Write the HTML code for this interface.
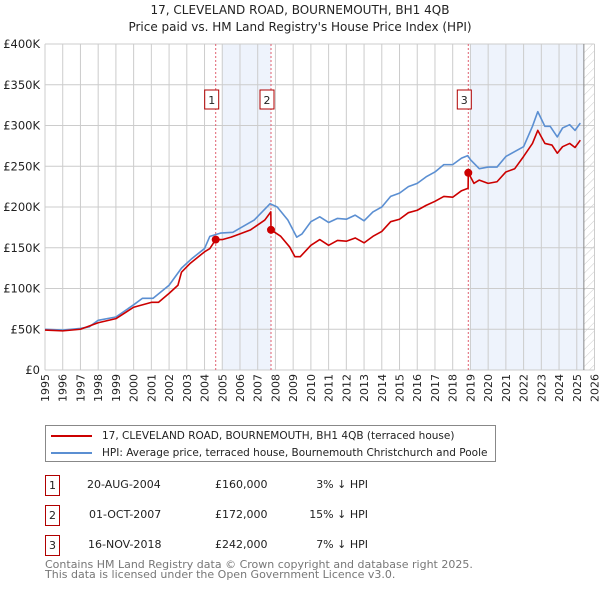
<!DOCTYPE html>
<html><head><meta charset="utf-8"><style>
body{margin:0;background:#fff;}
svg{display:block;font-family:"DejaVu Sans","Liberation Sans",sans-serif;}
</style></head><body>
<svg id="c" width="600" height="590" viewBox="0 0 600 590"></svg>
<script>
const hpiYears=[1995,1996,1997,1997.5,1998,1999,2000,2000.5,2001.1,2002,2002.7,2003.3,2004,2004.3,2004.9,2005.6,2006,2006.8,2007.7,2008.1,2008.7,2009.2,2009.5,2010,2010.5,2011,2011.5,2012,2012.5,2013,2013.5,2014,2014.5,2015,2015.5,2016,2016.5,2017,2017.5,2018,2018.5,2018.85,2019,2019.5,2020,2020.5,2021,2021.5,2022,2022.5,2022.8,2023.2,2023.5,2023.9,2024.2,2024.6,2024.9,2025.2];
const hpiValues=[50,49,51,53,61,65,80,88,88,104,125,137,149,164,168,169,174,184,204,200,184,163,167,182,188,181,186,185,190,183,194,200,213,217,225,229,237,243,252,252,260,263,258,247,249,249,262,268,274,299,317,299,299,286,297,301,294,303];
const priceYears=[1995,1996,1997,1998,1999,2000,2001,2001.4,2002,2002.5,2002.7,2003.2,2004,2004.3,2004.63,2005,2005.5,2006,2006.6,2007.4,2007.74,2007.75,2008.3,2008.8,2009.1,2009.4,2010,2010.5,2011,2011.5,2012,2012.5,2013,2013.5,2014,2014.5,2015,2015.5,2016,2016.5,2017,2017.5,2018,2018.5,2018.87,2018.88,2019.2,2019.5,2020,2020.5,2021,2021.5,2022,2022.5,2022.8,2023.2,2023.6,2023.9,2024.2,2024.6,2024.9,2025.2];
const priceValues=[49,48,50,58,63,77,83,83,94,104,120,131,145,149,160,160,163,167,172,184,194,172,164,151,139,139,153,160,153,159,158,162,156,164,170,182,185,193,196,202,207,213,212,220,223,242,229,233,229,231,243,247,262,278,294,278,276,266,274,278,273,282];
const saleYears=[2004.63,2007.75,2018.88];
const saleValues=[160,172,242];
const saleLabels=["1","2","3"];
const yTicks=[0,50,100,150,200,250,300,350,400];
const yTickLabels=["£0","£50K","£100K","£150K","£200K","£250K","£300K","£350K","£400K"];
const xTicks=[];for(let y=1995;y<=2026;y++)xTicks.push(y);

const X0=45,X1=594.5,Y0=370,Y1=44;
const xs=v=>X0+(v-1995)/31*(X1-X0);
const ys=v=>Y0-v/400*(Y0-Y1);
const svg=document.getElementById('c');
const NS='http://www.w3.org/2000/svg';
function mk(tag,attrs,parent){const e=document.createElementNS(NS,tag);for(const k in attrs)e.setAttribute(k,attrs[k]);(parent||svg).appendChild(e);return e;}

let s1=mk('rect',{x:xs(2005),y:Y1,width:xs(2007.75)-xs(2005),height:Y0-Y1,fill:'#eef3fc'});


let s2=mk('rect',{x:xs(2019),y:Y1,width:xs(2025.4)-xs(2019),height:Y0-Y1,fill:'#eef3fc'});


const defs=mk('defs',{});
const pat=mk('pattern',{id:'h',width:6,height:6,patternUnits:'userSpaceOnUse',patternTransform:'rotate(45)'},defs);
mk('line',{x1:0,y1:0,x2:0,y2:6,stroke:'#ccc','stroke-width':1},pat);
let hr=mk('rect',{x:xs(2025.4),y:Y1,width:X1-xs(2025.4),height:Y0-Y1,fill:'url(#h)'});



xTicks.forEach(t=>{
  let l=mk('line',{x1:xs(t),x2:xs(t),y1:Y1,y2:Y0,stroke:'#cccccc','stroke-width':1});
  
  
  let tx=mk('text',{x:0,y:0,transform:`translate(${xs(t)+4},${Y0+4}) rotate(-90)`,'text-anchor':'end','font-size':11,fill:'#222'});
  tx.textContent=t;
  
  
});
yTicks.forEach((t,i)=>{
  let l=mk('line',{x1:X0,x2:X1,y1:ys(t),y2:ys(t),stroke:'#cccccc','stroke-width':1});
  
  
  let tx=mk('text',{x:X0-5,y:ys(t)+4,'text-anchor':'end','font-size':11.5,fill:'#222'});
  tx.textContent=yTickLabels[i];
  
  
});
let vl=mk('line',{x1:xs(2025.4),x2:xs(2025.4),y1:Y1,y2:Y0,stroke:'#888','stroke-width':1});



saleYears.forEach((y,i)=>{
  let l=mk('line',{x1:xs(y),x2:xs(y),y1:Y1,y2:Y0,stroke:'#e06070','stroke-width':1,'stroke-dasharray':'2,2'});
  
  
  let b=mk('rect',{x:xs(y)-11,y:90,width:14,height:19,fill:'#fff',stroke:'#b00000','stroke-width':1});
  
  
  let t=mk('text',{x:xs(y)-4,y:104,'text-anchor':'middle','font-size':11,fill:'#222'});
  t.textContent=saleLabels[i];
  
  
});

const line=(xv,yv,c,n)=>{
  let p=mk('polyline',{points:xv.map((x,i)=>xs(x)+','+ys(yv[i])).join(' '),fill:'none',stroke:c,'stroke-width':1.6,'stroke-linejoin':'round'});
  
  
};
line(hpiYears,hpiValues,'#5b8fd2','hpi-line');
line(priceYears,priceValues,'#cc0000','price-paid-line');
saleYears.forEach((y,i)=>{
  let c=mk('circle',{cx:xs(y),cy:ys(saleValues[i]),r:4,fill:'#cc0000'});
  
  
});
</script>
<div style="position:absolute;left:0;top:0;width:600px;font-family:'DejaVu Sans','Liberation Sans',sans-serif;">
  <div style="position:absolute;top:2px;width:600px;text-align:center;font-size:12px;line-height:17px;color:#222;">17, CLEVELAND ROAD, BOURNEMOUTH, BH1 4QB<br>Price paid vs. HM Land Registry's House Price Index (HPI)</div>
  <div style="position:absolute;left:45px;top:425px;width:449px;height:35px;border:1px solid #888;font-size:10.5px;color:#222;">
    <div style="position:absolute;left:5px;top:4px;white-space:nowrap;"><span style="display:inline-block;width:41px;height:2px;background:#cc0000;vertical-align:middle;margin-right:10px;"></span>17, CLEVELAND ROAD, BOURNEMOUTH, BH1 4QB (terraced house)</div>
    <div style="position:absolute;left:5px;top:21px;white-space:nowrap;"><span style="display:inline-block;width:41px;height:2px;background:#5b8fd2;vertical-align:middle;margin-right:10px;"></span>HPI: Average price, terraced house, Bournemouth Christchurch and Poole</div>
  </div>
  <div style="font-size:11px;color:#222;">
    <div style="position:absolute;top:475px;left:0;width:600px;height:20px;">
      <span style="position:absolute;left:45px;width:13px;height:19px;border:1px solid #b00000;text-align:center;line-height:19px;">1</span>
      <span style="position:absolute;left:87px;top:3px;">20-AUG-2004</span>
      <span style="position:absolute;left:215px;top:3px;">£160,000</span>
      <span style="position:absolute;right:232px;top:3px;">3% ↓ HPI</span>
    </div>
    <div style="position:absolute;top:505px;left:0;width:600px;height:20px;">
      <span style="position:absolute;left:45px;width:13px;height:19px;border:1px solid #b00000;text-align:center;line-height:19px;">2</span>
      <span style="position:absolute;left:89px;top:3px;">01-OCT-2007</span>
      <span style="position:absolute;left:215px;top:3px;">£172,000</span>
      <span style="position:absolute;right:232px;top:3px;">15% ↓ HPI</span>
    </div>
    <div style="position:absolute;top:535px;left:0;width:600px;height:20px;">
      <span style="position:absolute;left:45px;width:13px;height:19px;border:1px solid #b00000;text-align:center;line-height:19px;">3</span>
      <span style="position:absolute;left:88px;top:3px;">16-NOV-2018</span>
      <span style="position:absolute;left:215px;top:3px;">£242,000</span>
      <span style="position:absolute;right:232px;top:3px;">7% ↓ HPI</span>
    </div>
  </div>
  <div style="position:absolute;left:45px;top:560px;font-size:11px;line-height:10px;color:#777;">Contains HM Land Registry data © Crown copyright and database right 2025.<br>This data is licensed under the Open Government Licence v3.0.</div>
</div>
</body></html>
